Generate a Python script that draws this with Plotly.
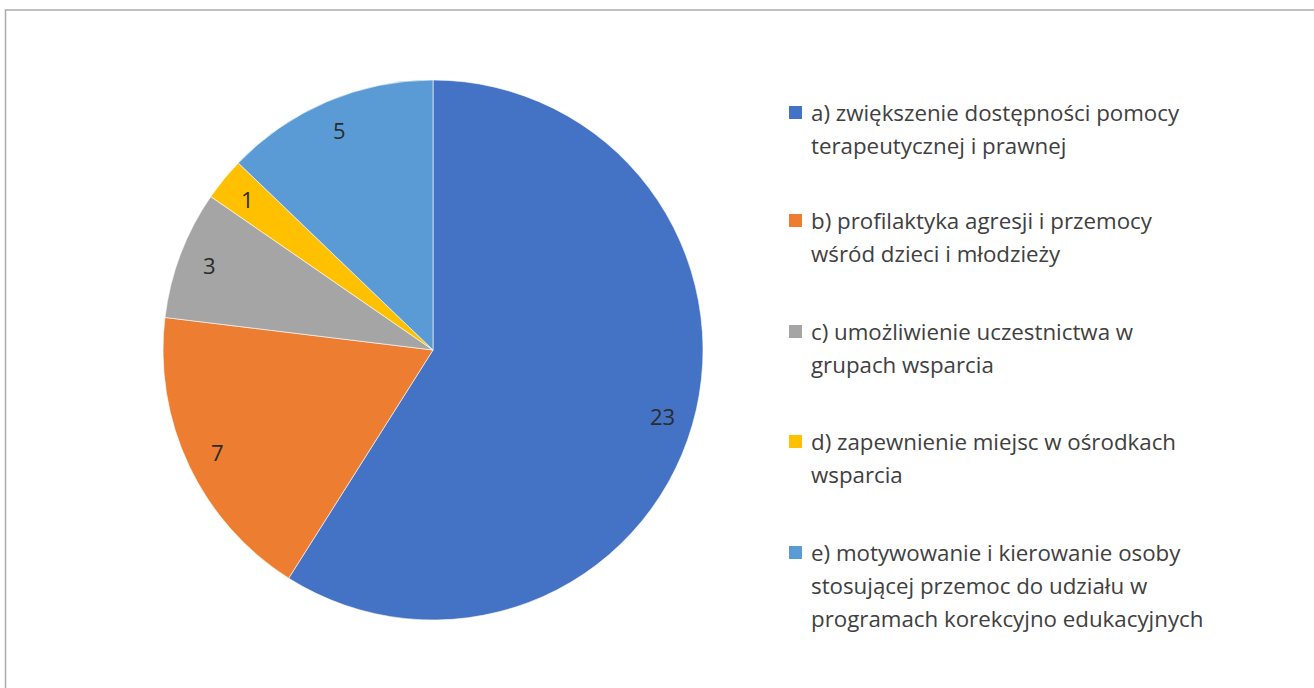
import math
import plotly.graph_objects as go

# ---- data ----
categories = [
    "a) zwiększenie dostępności pomocy terapeutycznej i prawnej",
    "b) profilaktyka agresji i przemocy wśród dzieci i młodzieży",
    "c) umożliwienie uczestnictwa w grupach wsparcia",
    "d) zapewnienie miejsc w ośrodkach wsparcia",
    "e) motywowanie i kierowanie osoby stosującej przemoc do udziału w programach korekcyjno edukacyjnych",
]
legend_lines = [
    ["a) zwiększenie dostępności pomocy", "terapeutycznej i prawnej"],
    ["b) profilaktyka agresji i przemocy", "wśród dzieci i młodzieży"],
    ["c) umożliwienie uczestnictwa w", "grupach wsparcia"],
    ["d) zapewnienie miejsc w ośrodkach", "wsparcia"],
    ["e) motywowanie i kierowanie osoby", "stosującej przemoc do udziału w", "programach korekcyjno edukacyjnych"],
]
values = [23, 7, 3, 1, 5]
colors = ["#4472C4", "#ED7D31", "#A5A5A5", "#FFC000", "#5B9BD5"]

# ---- layout constants (page pixels) ----
W, H = 1314, 688
CX, CY, R = 433, 350, 270
FONT = "Open Sans"
TEXT_COLOR = "#404040"

fig = go.Figure()
fig.add_trace(go.Pie(
    labels=categories,
    values=values,
    marker=dict(colors=colors, line=dict(color="white", width=0.6)),
    sort=False,
    direction="clockwise",
    rotation=0,
    textinfo="none",
    hoverinfo="label+value",
    showlegend=False,
    domain=dict(x=[(CX - R) / W, (CX + R) / W], y=[1 - (CY + R) / H, 1 - (CY - R) / H]),
))

annotations = []
# data labels computed from the values (placed near the outer edge of each slice)
total = sum(values)
cum = 0
for v in values:
    mid = (cum + v / 2) / total * 2 * math.pi
    cum += v
    px = CX + 0.885 * R * math.sin(mid)
    py = CY - 0.885 * R * math.cos(mid)
    annotations.append(dict(
        x=px / W, y=1 - py / H, xref="paper", yref="paper",
        text=str(v), showarrow=False, xanchor="center", yanchor="middle",
        font=dict(family=FONT, size=22, color="#2b2b2b"),
    ))

# legend drawn as text lines + colour squares
shapes = []
item_tops = [112, 220, 331, 441, 552]
line_step = 33
LX_SQ, LX_TXT = 789, 809
for lines, col, top in zip(legend_lines, colors, item_tops):
    shapes.append(dict(
        type="rect", xref="paper", yref="paper",
        x0=LX_SQ / W, x1=(LX_SQ + 13) / W, y0=1 - (top + 7) / H, y1=1 - (top - 6) / H,
        fillcolor=col, line=dict(width=0),
    ))
    for i, ln in enumerate(lines):
        annotations.append(dict(
            x=LX_TXT / W, y=1 - (top + i * line_step) / H, xref="paper", yref="paper",
            text=ln, showarrow=False, xanchor="left", yanchor="middle",
            font=dict(family=FONT, size=22.3, color=TEXT_COLOR),
        ))

# outer chart border
shapes.append(dict(
    type="rect", xref="paper", yref="paper",
    x0=5.5 / W, x1=1.05, y0=-0.05, y1=1 - 10 / H,
    line=dict(color="#ABABAB", width=1.5), fillcolor="rgba(0,0,0,0)", layer="below",
))

fig.update_layout(
    width=W, height=H,
    margin=dict(l=0, r=0, t=0, b=0),
    paper_bgcolor="white", plot_bgcolor="white",
    annotations=annotations, shapes=shapes,
    showlegend=False,
)
fig.write_html(
    "out.html",
    config={"displayModeBar": False},
    post_script="document.body.style.margin='0';document.body.style.overflow='hidden';",
)
